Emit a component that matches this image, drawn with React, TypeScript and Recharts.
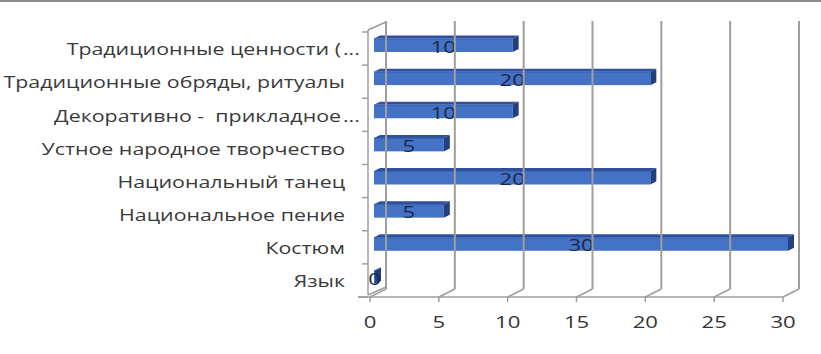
import React from "react";
import { BarChart, Bar, XAxis, YAxis } from "recharts";

const categories = [
  "Традиционные ценности (...",
  "Традиционные обряды, ритуалы",
  "Декоративно -  прикладное...",
  "Устное народное творчество",
  "Национальный танец",
  "Национальное пение",
  "Костюм",
  "Язык",
];
const values = [10, 20, 10, 5, 20, 5, 30, 0];
const xTicks = [0, 5, 10, 15, 20, 25, 30];

const data = categories.map((c, i) => ({ name: c, value: values[i] }));

const W = 821;
const H = 354;
const PLOT_LEFT = 370;
const PLOT_RIGHT = 783;
const PLOT_TOP = 32;
const FLOOR_Y = 297;
const BAND = (FLOOR_Y - PLOT_TOP) / categories.length;
const DX = 16;
const DY = 8;
const BACK_TOP = 21;
const SX = 1.38;
const FONT = "'Open Sans', sans-serif";
const GRID = "#9e9e9e";

const SText = ({ x, y, children, fill = "#3a3a3a", size = 15.5, anchor = "end" }: any) => (
  <text
    transform={`translate(${x},${y}) scale(${SX},1)`}
    textAnchor={anchor}
    dominantBaseline="central"
    fontFamily={FONT}
    fontSize={size}
    fill={fill}
    style={{ whiteSpace: "pre" }}
  >
    {children}
  </text>
);

const CatTick = (props: any) => {
  const { y, payload, index } = props;
  const label: string = payload.value;
  const trunc = label.endsWith("...");
  const main = trunc ? label.slice(0, -3) : label;
  const top = y - BAND / 2;
  return (
    <g>
      <line x1={362} x2={368} y1={top} y2={top} stroke={GRID} strokeWidth={1.5} />
      {index === categories.length - 1 && (
        <line x1={358} x2={368} y1={y + BAND / 2} y2={y + BAND / 2} stroke={GRID} strokeWidth={1.5} />
      )}
      <SText x={trunc ? 341 : 345} y={y + 0.5}>{main}</SText>
      {trunc && (
        <SText x={343} y={y + 0.5} anchor="start">...</SText>
      )}
    </g>
  );
};

const ValTick = (props: any) => {
  const { x, payload } = props;
  const v = payload.value;
  const isFirst = v === xTicks[0];
  return (
    <g>
      <line x1={x + DX} x2={x + DX} y1={BACK_TOP} y2={FLOOR_Y - DY} stroke={GRID} strokeWidth={2} />
      <line x1={x} y1={FLOOR_Y} x2={x + DX} y2={FLOOR_Y - DY} stroke={GRID} strokeWidth={1.5} />
      <line x1={x} x2={x} y1={FLOOR_Y} y2={FLOOR_Y + 5} stroke={GRID} strokeWidth={1.5} />
      {isFirst && (
        <g>
          <line x1={x - 2} x2={x - 2} y1={PLOT_TOP - 2} y2={FLOOR_Y - 2} stroke={GRID} strokeWidth={1.5} />
          <line x1={x - 2} y1={PLOT_TOP - 2} x2={x + DX} y2={PLOT_TOP - 2 - DY} stroke={GRID} strokeWidth={1.5} />
          <line x1={x - 2} y1={FLOOR_Y - 2} x2={x + DX} y2={FLOOR_Y - 2 - DY} stroke={GRID} strokeWidth={1.5} />
        </g>
      )}
      <SText x={x} y={322} anchor="middle" size={16} fill="#333">{String(v)}</SText>
    </g>
  );
};

const Bar3D = (props: any) => {
  const { x, y, width, height, value } = props;
  const x0 = x + 4;
  const x1 = x + Math.max(width, 0) + 5;
  const yc = y + height / 2 - 3;
  const yt = yc - 7;
  const yb = yc + 6.5;
  const d = 6;
  const e = 3;
  return (
    <g>
      <polygon
        points={`${x0},${yt} ${x0 + d},${yt - e} ${x1 + d},${yt - e} ${x1},${yt}`}
        fill="#2f519c"
      />
      <rect x={x0} y={yt} width={x1 - x0} height={yb - yt} fill="#4472c4" />
      <line x1={x0} x2={x1} y1={yt + 0.5} y2={yt + 0.5} stroke="#3a62b0" strokeWidth={1} />
      <polygon
        points={`${x1},${yt} ${x1 + d},${yt - e} ${x1 + d},${yb - e} ${x1},${yb}`}
        fill="#23407e"
      />
      <SText x={(x0 + x1) / 2} y={yc + 1} anchor="middle" size={16} fill="#1b2748">
        {String(value)}
      </SText>
    </g>
  );
};

export default function App() {
  return (
    <div style={{ position: "fixed", left: 0, top: 0, width: W, height: H, background: "#fff" }}>
      <svg width={W} height={H} style={{ position: "absolute", left: 0, top: 0 }}>
        <line x1={0} x2={W} y1={1} y2={1} stroke="#8c8c8c" strokeWidth={2} />
      </svg>
      <div style={{ position: "absolute", left: 0, top: 0 }}>
        <BarChart
          width={W}
          height={H}
          data={data}
          layout="vertical"
          margin={{ top: PLOT_TOP, right: W - PLOT_RIGHT, bottom: H - FLOOR_Y - 30, left: 10 }}
          barSize={13}
        >
          <XAxis
            type="number"
            domain={[0, 30]}
            ticks={xTicks}
            interval={0}
            axisLine={false}
            tickLine={false}
            tick={<ValTick />}
            height={30}
          />
          <YAxis
            type="category"
            dataKey="name"
            width={PLOT_LEFT - 10}
            axisLine={false}
            tickLine={false}
            interval={0}
            tick={<CatTick />}
          />
          <Bar dataKey="value" isAnimationActive={false} shape={<Bar3D />} />
        </BarChart>
      </div>
      <svg width={W} height={H} style={{ position: "absolute", left: 0, top: 0, pointerEvents: "none" }}>
        <line x1={358} x2={PLOT_RIGHT} y1={FLOOR_Y} y2={FLOOR_Y} stroke={GRID} strokeWidth={1.5} />
      </svg>
    </div>
  );
}
